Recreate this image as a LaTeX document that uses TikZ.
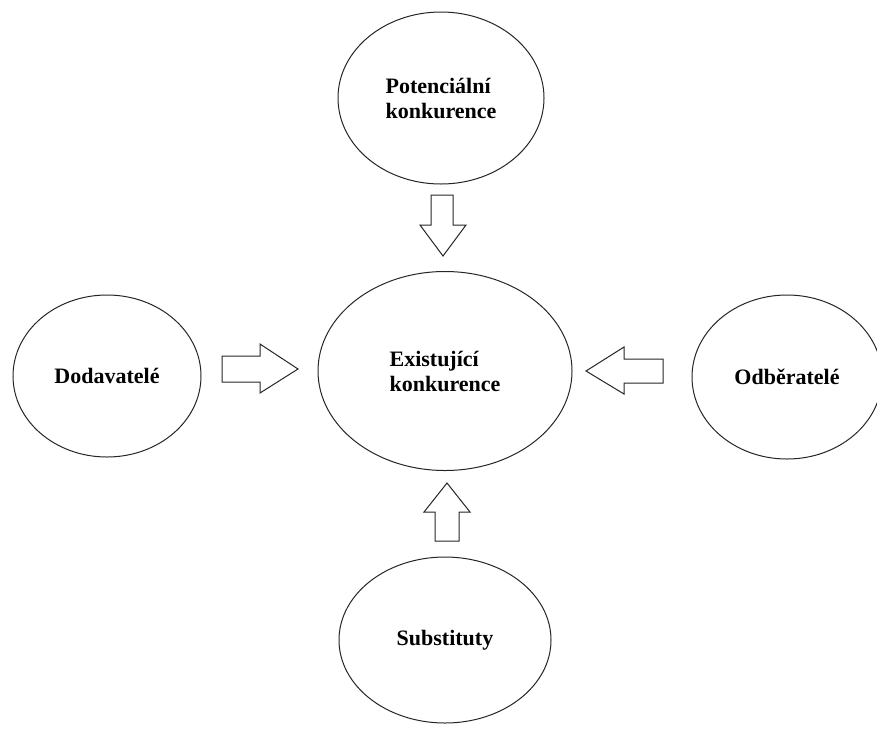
\documentclass[tikz,border=0pt]{standalone}
\usepackage{fontspec}
\setmainfont{Liberation Serif}
\usetikzlibrary{shapes.geometric}
\begin{document}
\begin{tikzpicture}[x=1pt,y=-1pt,
  force/.style={ellipse,draw=black!85,line width=1pt,inner sep=0pt,align=left,
    font=\fontsize{22}{25}\selectfont\bfseries},
  blockarrow/.style={draw=black!85,line width=1pt,fill=white,line join=miter}]
\clip (0,0) rectangle (877,729);
\useasboundingbox (0,0) rectangle (877,729);
\fill[white] (0,0) rectangle (877,729);
% ellipses
\node[force,minimum width=206pt,minimum height=172pt] (pot) at (441,98) {Potenciální\\konkurence};
\node[force,minimum width=254pt,minimum height=199pt] (exi) at (445,371) {Existující\\konkurence};
\node[force,minimum width=188pt,minimum height=162pt] (dod) at (107,376) {Dodavatelé};
\node[force,minimum width=190pt,minimum height=164pt] (odb) at (787,377) {Odběratelé};
\node[force,minimum width=212pt,minimum height=166pt] (sub) at (445,640) {Substituty};
% block arrows
\draw[blockarrow] (431,195) -- (453,195) -- (453,225) -- (466,225) -- (443,256) -- (420,225) -- (431,225) -- cycle;
\draw[blockarrow] (222,356) -- (260,356) -- (260,344) -- (298,369) -- (260,393) -- (260,382) -- (222,382) -- cycle;
\draw[blockarrow] (663,359) -- (624,359) -- (624,347) -- (586,371) -- (624,394) -- (624,383) -- (663,383) -- cycle;
\draw[blockarrow] (435,541) -- (435,512) -- (424,512) -- (447,483) -- (470,512) -- (459,512) -- (459,541) -- cycle;
\end{tikzpicture}
\end{document}
